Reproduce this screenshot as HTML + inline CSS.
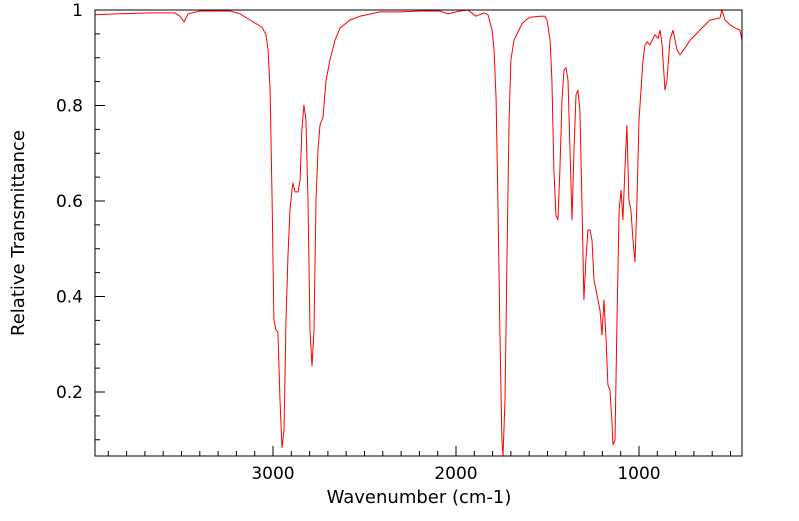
<!DOCTYPE html>
<html><head><meta charset="utf-8"><style>
body{margin:0;background:#fff;}
svg text{font-family:"DejaVu Sans","Liberation Sans",sans-serif;fill:#000;}
</style></head><body>
<svg id="c" width="799" height="516"></svg>
<script>
const wavenumbers=[3973,3836,3672,3535,3508,3486,3464,3399,3235,3180,3126,3060,3038,3027,3016,3005,2995,2984,2973,2962,2951,2940,2929,2918,2907,2896,2891,2880,2863,2852,2842,2831,2820,2809,2798,2787,2776,2765,2754,2743,2727,2710,2689,2661,2634,2579,2525,2415,2306,2197,2088,2044,1978,1935,1891,1847,1825,1803,1792,1781,1771,1760,1749,1743,1732,1721,1710,1700,1683,1661,1639,1618,1596,1541,1514,1503,1486,1476,1465,1454,1443,1432,1421,1410,1399,1388,1377,1366,1355,1344,1334,1323,1312,1301,1290,1279,1268,1257,1246,1235,1224,1213,1202,1191,1180,1170,1159,1148,1142,1131,1120,1109,1098,1088,1077,1066,1055,1044,1033,1022,1011,1000,989,978,967,956,940,913,896,885,874,858,847,831,814,792,776,749,721,667,612,558,547,530,503,475,448,437];
const transmittance=[.990,.992,.994,.994,.987,.975,.992,.998,.998,.992,.979,.964,.948,.916,.832,.602,.351,.330,.326,.183,.083,.120,.351,.487,.581,.623,.638,.619,.619,.644,.749,.801,.770,.602,.330,.254,.330,.602,.707,.759,.776,.853,.895,.937,.962,.979,.987,.996,.996,.998,.998,.992,.998,1,.987,.994,.990,.958,.916,.812,.602,.330,.099,.066,.183,.497,.770,.895,.937,.954,.971,.979,.985,.987,.987,.979,.937,.853,.665,.571,.560,.665,.812,.874,.879,.853,.707,.560,.707,.822,.832,.791,.602,.393,.476,.539,.539,.518,.435,.414,.393,.372,.319,.393,.309,.215,.204,.141,.089,.099,.351,.581,.623,.560,.665,.759,.602,.581,.518,.472,.602,.770,.832,.895,.927,.933,.927,.948,.941,.958,.927,.832,.853,.937,.958,.916,.906,.920,.937,.958,.979,.983,1,.979,.969,.962,.958,.937];
const xTicks=[3000,2000,1000];
const yTicks=[0.2,0.4,0.6,0.8,1];
const L=95,R=742,T=10,B=456;
const xs=w=>273+(3000-w)*0.183;
const ys=v=>T+(1-v)*477.5;
const NS="http://www.w3.org/2000/svg";
const svg=document.getElementById('c');
function mk(tag,attrs,parent){const e=document.createElementNS(NS,tag);for(const k in attrs)e.setAttribute(k,attrs[k]);(parent||svg).appendChild(e);return e;}
const clip=mk('clipPath',{id:'cp'});mk('rect',{x:L,y:T,width:R-L,height:B-T},clip);
let d='';wavenumbers.forEach((w,i)=>{d+=(i?'L':'M')+xs(w).toFixed(1)+','+ys(transmittance[i]).toFixed(1);});
const line=mk('path',{d:d,fill:'none',stroke:'#ff0000','stroke-width':1,'clip-path':'url(#cp)'});


const frame=mk('rect',{x:L,y:T,width:R-L,height:B-T,fill:'none',stroke:'#000','stroke-width':1});


for(let w=4000;w>=400;w-=100){const x=xs(w);if(x<L||x>R)continue;const major=w%1000===0;mk('line',{x1:x,x2:x,y1:B,y2:B-(major?10:5),stroke:'#000'});}
xTicks.forEach(w=>{const t=mk('text',{x:xs(w),y:B+23,'text-anchor':'middle','font-size':17});t.textContent=w;

});
for(let v=0.1;v<=1.001;v+=0.05){const y=ys(v);if(y<T||y>B)continue;const major=Math.abs(v*10-Math.round(v*10))<0.01&&Math.round(v*10)%2===0;mk('line',{x1:L,x2:L+(major?10:5),y1:y,y2:y,stroke:'#000'});}
yTicks.forEach(v=>{const t=mk('text',{x:L-12,y:ys(v)+6,'text-anchor':'end','font-size':17});t.textContent=v===1?'1':v.toFixed(1);

});
const xt=mk('text',{x:419,y:503,'text-anchor':'middle','font-size':18});xt.textContent='Wavenumber (cm-1)';


const yt=mk('text',{x:0,y:0,'text-anchor':'middle','font-size':18,transform:'translate(24,233) rotate(-90)'});yt.textContent='Relative Transmittance';


</script>
</body></html>
